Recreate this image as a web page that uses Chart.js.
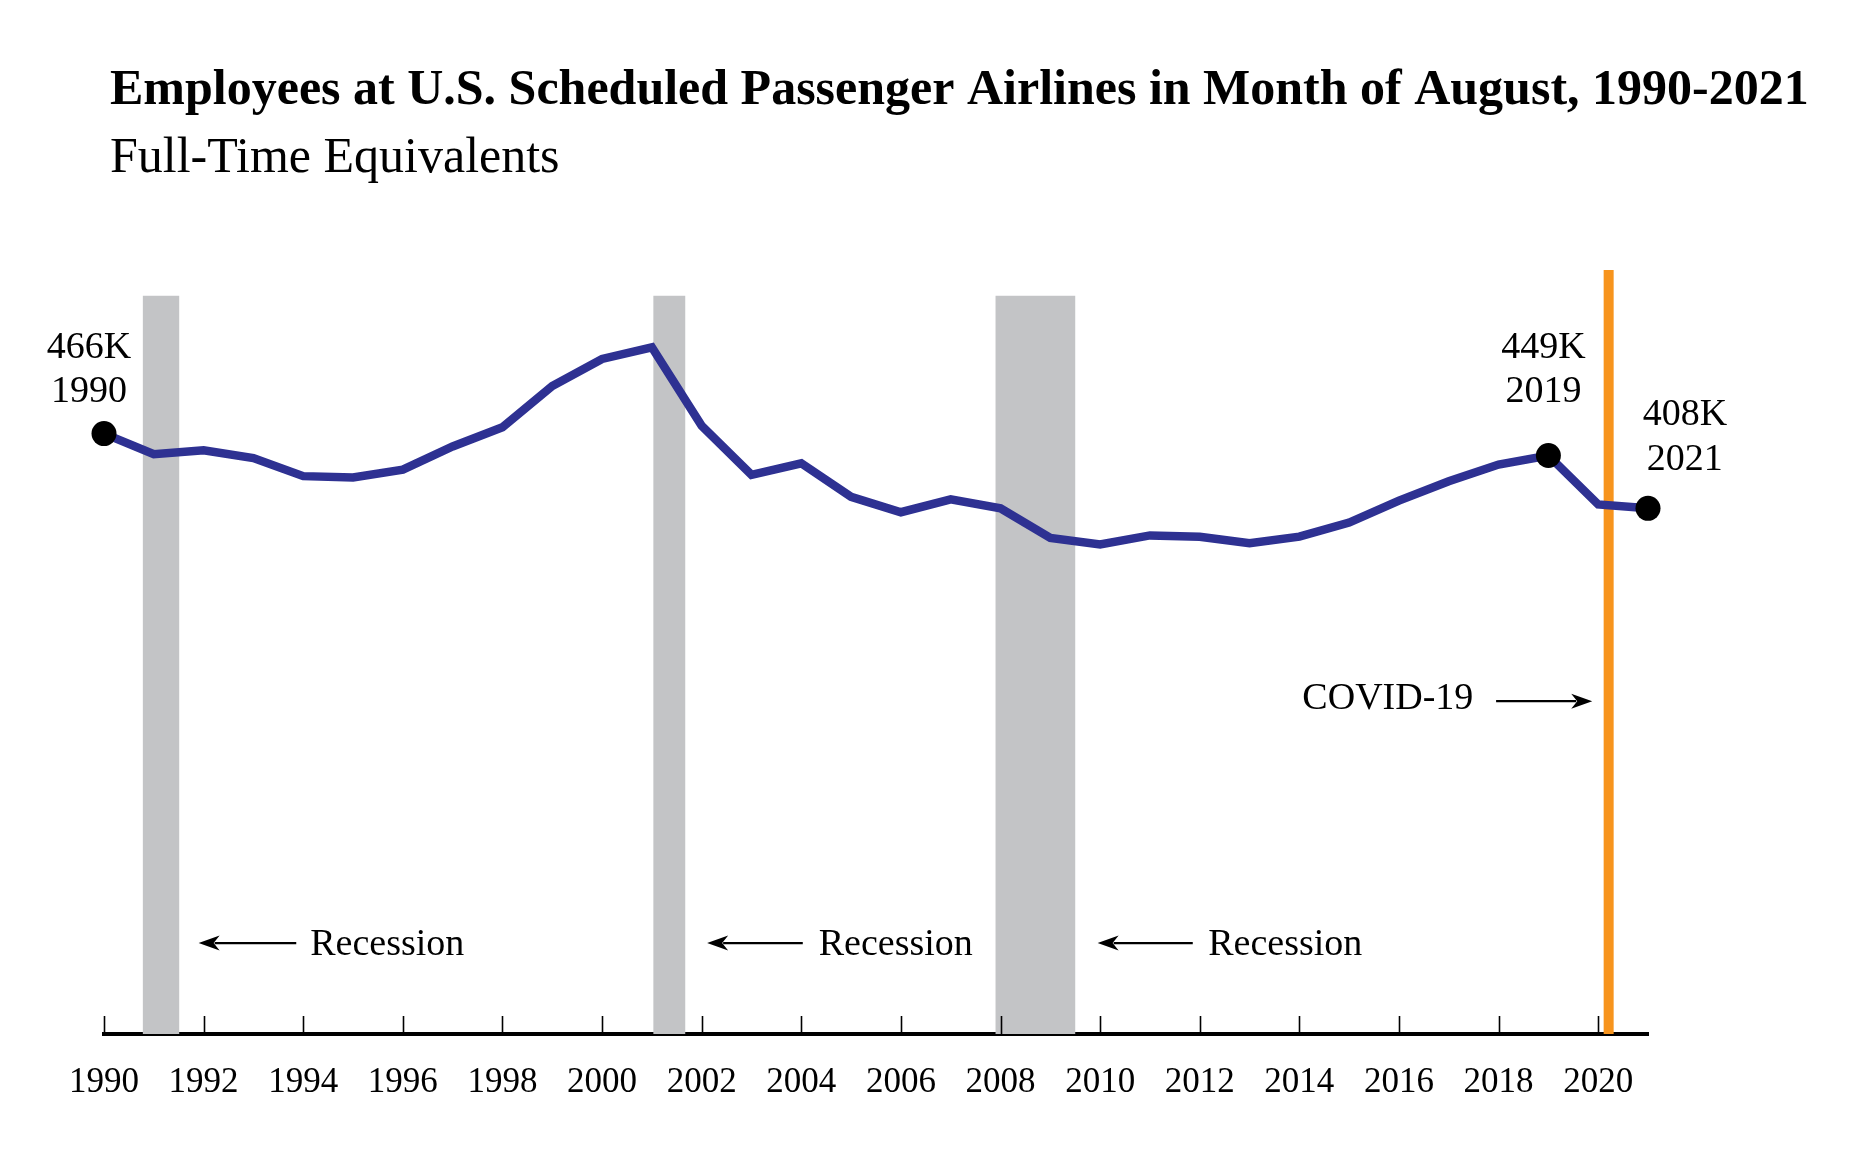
<!DOCTYPE html>
<html><head><meta charset="utf-8">
<script src="https://cdn.jsdelivr.net/npm/chart.js@4/dist/chart.umd.min.js"></script>
<style>html,body{margin:0;padding:0;background:#fff}#wrap{width:1856px;height:1162px}</style>
</head><body><div id="wrap"><canvas id="c" width="1856" height="1162"></canvas></div>
<script>
// ---- data ----
const years = [1990,1991,1992,1993,1994,1995,1996,1997,1998,1999,2000,2001,2002,2003,2004,2005,2006,2007,2008,2009,2010,2011,2012,2013,2014,2015,2016,2017,2018,2019,2020,2021];
const employeesK = [466,450,453,447,433,432,438,456,471,503,524,533,472,434,443,417,405,415,408,385,380,387,386,381,386,397,414,429,442,449,411,408];
const tickYears = [1990,1992,1994,1996,1998,2000,2002,2004,2006,2008,2010,2012,2014,2016,2018,2020];
const highlightYears = [1990, 2019, 2021];
const recessionStart = [1990.78, 2001.03, 2007.90];
const recessionEnd = [1991.51, 2001.67, 2009.50];
const covidYear = 2020.21;
const titleText = 'Employees at U.S. Scheduled Passenger Airlines in Month of August, 1990-2021';
const subtitleText = 'Full-Time Equivalents';
const recessionLabel = 'Recession';
const covidLabel = 'COVID-19';

// ---- annotation placement (positions in axis units) ----
const FONT = '"Liberation Serif", "Times New Roman", Times, serif';
const pointLabels = [
  {x: 1989.70, lines: [{text: '466K', y: 525}, {text: '1990', y: 490.5}]},
  {x: 2018.90, lines: [{text: '449K', y: 525}, {text: '2019', y: 490.5}]},
  {x: 2021.74, lines: [{text: '408K', y: 472.5}, {text: '2021', y: 437.5}]}
];
const recessionArrows = [
  {tip: 1991.90, tail: 1993.86, text: 1994.14},
  {tip: 2002.11, tail: 2004.03, text: 2004.35},
  {tip: 2009.95, tail: 2011.86, text: 2012.17}
];
const recArrowY = 70.6, recTextY = 61.3;
const covidArrow = {textX: 2014.06, textY: 252, tail: 2017.95, tip: 2019.88, y: 258.3};
const bandTop = 573;

function arrow(ctx, x0, x1, y) {
  const dir = Math.sign(x1 - x0);
  ctx.beginPath();
  ctx.moveTo(x0, y);
  ctx.lineTo(x1 - dir * 16, y);
  ctx.lineWidth = 2.2;
  ctx.strokeStyle = '#000';
  ctx.stroke();
  ctx.beginPath();
  ctx.moveTo(x1, y);
  ctx.lineTo(x1 - dir * 21, y - 7.5);
  ctx.lineTo(x1 - dir * 15, y);
  ctx.lineTo(x1 - dir * 21, y + 7.5);
  ctx.closePath();
  ctx.fillStyle = '#000';
  ctx.fill();
}

const decor = {
  id: 'decor',
  beforeDatasetsDraw(chart) {
    const {ctx, chartArea: a, scales: {x, y}} = chart;
    ctx.save();
    ctx.fillStyle = '#c3c4c6';
    const top = y.getPixelForValue(bandTop);
    recessionStart.forEach((s, i) => {
      const x0 = x.getPixelForValue(s), x1 = x.getPixelForValue(recessionEnd[i]);
      ctx.fillRect(x0, top, x1 - x0, a.bottom - top);
    });
    ctx.fillStyle = '#f7941d';
    const cx = x.getPixelForValue(covidYear);
    ctx.fillRect(cx - 5, a.top, 10, a.bottom - a.top);
    ctx.restore();
  },
  afterDraw(chart) {
    const {ctx, chartArea: a, scales: {x, y}} = chart;
    ctx.save();
    // tick marks pointing up
    ctx.strokeStyle = '#000';
    ctx.lineWidth = 1.6;
    tickYears.forEach(t => {
      const px = Math.round(x.getPixelForValue(t)) + 0.5;
      ctx.beginPath();
      ctx.moveTo(px, a.bottom);
      ctx.lineTo(px, a.bottom - 18);
      ctx.stroke();
    });
    // title
    ctx.fillStyle = '#000';
    ctx.textBaseline = 'alphabetic';
    ctx.textAlign = 'left';
    ctx.font = 'bold 50px ' + FONT;
    ctx.fillText(titleText, 110, 104);
    ctx.font = '50px ' + FONT;
    ctx.fillText(subtitleText, 110, 172);
    // point labels
    ctx.font = '38px ' + FONT;
    ctx.textAlign = 'center';
    pointLabels.forEach(p => {
      p.lines.forEach(l => ctx.fillText(l.text, x.getPixelForValue(p.x), y.getPixelForValue(l.y)));
    });
    // recession arrows
    ctx.textAlign = 'left';
    recessionArrows.forEach(r => {
      arrow(ctx, x.getPixelForValue(r.tail), x.getPixelForValue(r.tip), y.getPixelForValue(recArrowY));
      ctx.fillStyle = '#000';
      ctx.fillText(recessionLabel, x.getPixelForValue(r.text), y.getPixelForValue(recTextY));
    });
    // covid
    ctx.fillText(covidLabel, x.getPixelForValue(covidArrow.textX), y.getPixelForValue(covidArrow.textY));
    arrow(ctx, x.getPixelForValue(covidArrow.tail), x.getPixelForValue(covidArrow.tip), y.getPixelForValue(covidArrow.y));
    ctx.restore();
  }
};

new Chart(document.getElementById('c'), {
  type: 'line',
  data: {
    datasets: [{
      data: years.map((yr, i) => ({x: yr, y: employeesK[i]})),
      borderColor: '#2e3192',
      borderWidth: 8.5,
      borderJoinStyle: 'miter',
      borderCapStyle: 'butt',
      tension: 0,
      fill: false,
      clip: false,
      pointRadius: years.map(yr => highlightYears.includes(yr) ? 12.5 : 0),
      pointBackgroundColor: '#000',
      pointBorderColor: '#000',
      pointBorderWidth: 0
    }]
  },
  options: {
    responsive: false,
    animation: false,
    devicePixelRatio: 1,
    events: [],
    layout: {padding: {left: 104, right: 208, top: 270, bottom: 0}},
    plugins: {legend: {display: false}, tooltip: {enabled: false}, title: {display: false}},
    scales: {
      x: {
        type: 'linear',
        min: 1990,
        max: 2021,
        grid: {display: false, drawTicks: false},
        border: {display: true, color: '#000', width: 4},
        afterBuildTicks: s => { s.ticks = tickYears.map(v => ({value: v})); },
        afterFit: s => { s.height = 128; },
        ticks: {
          padding: 28,
          color: '#000',
          font: {family: FONT, size: 35},
          callback: v => String(v),
          maxRotation: 0,
          autoSkip: false
        }
      },
      y: {display: false, min: 0, max: 593}
    }
  },
  plugins: [decor]
});
</script>
</body></html>
